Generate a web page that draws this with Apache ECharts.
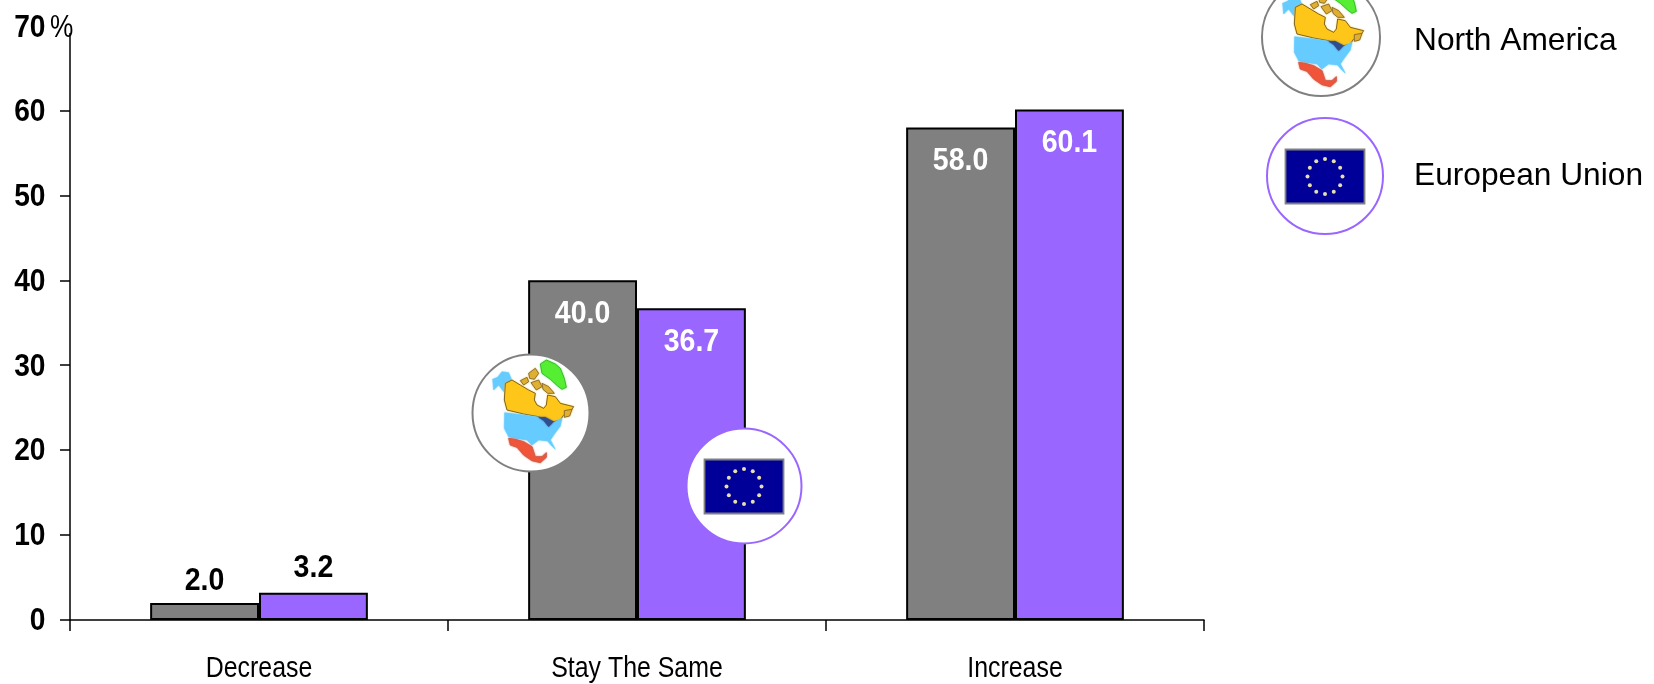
<!DOCTYPE html>
<html><head><meta charset="utf-8">
<style>html,body{margin:0;padding:0;background:#fff}#c{width:1654px;height:684px}</style>
<script src="https://cdn.jsdelivr.net/npm/echarts@6/dist/echarts.min.js"></script>
</head><body><div id="c"></div>
<script>
const categories = ['Decrease', 'Stay The Same', 'Increase'];
const northAmerica = [2.0, 40.0, 58.0];
const europeanUnion = [3.2, 36.7, 60.1];
const seriesNames = ['North America', 'European Union'];
const yTicks = [0, 10, 20, 30, 40, 50, 60, 70];

const GRAY = '#808080', PURPLE = '#9966FF';
const SANS = '"Liberation Sans",Arial,sans-serif';
const BAR_GAP = 42.4;

// decorative icon outlines, in units of 1/3 px around the icon's centre
const mapShapes = [
  {fill:'#55EE33', pts:[[240,72],[258,60],[285,72],[300,85],[312,115],[318,142],[305,148],[292,138],[270,118],[245,100]], stroke:'#33AA33'},
  {fill:'#66CCFF', pts:[[97,118],[112,112],[125,95],[145,98],[155,122],[133,130],[130,155],[115,135],[100,150]]},
  {fill:'#FFC61A', pts:[[135,130],[155,120],[180,135],[205,150],[225,160],[222,180],[230,195],[250,205],[258,195],[262,165],[285,170],[300,190],[320,195],[340,200],[330,215],[310,225],[300,240],[280,245],[262,258],[258,240],[235,230],[190,222],[140,210],[132,180]], stroke:'#5a4a20'},
  {fill:'#E0B030', pts:[[180,122],[200,112],[205,125],[190,135]], stroke:'#7a6030'},
  {fill:'#E0B030', pts:[[205,100],[225,85],[235,100],[222,118],[208,115]], stroke:'#7a6030'},
  {fill:'#E0B030', pts:[[212,128],[235,120],[245,140],[228,150]], stroke:'#7a6030'},
  {fill:'#E0B030', pts:[[245,130],[265,140],[282,160],[262,160],[248,148]], stroke:'#7a6030'},
  {fill:'#E0B030', pts:[[312,212],[335,208],[328,228],[312,232]], stroke:'#7a6030'},
  {fill:'#66CCFF', pts:[[133,218],[190,225],[235,232],[250,245],[265,260],[285,245],[305,235],[300,258],[280,285],[270,300],[285,328],[272,315],[262,303],[235,300],[215,315],[200,300],[165,295],[145,290],[132,265]]},
  {fill:'#2F4F8F', pts:[[235,232],[255,232],[280,245],[265,260],[250,242]]},
  {fill:'#F0553A', pts:[[145,295],[165,298],[190,305],[215,320],[225,350],[245,350],[258,338],[258,352],[240,368],[215,362],[190,345],[170,322],[150,315]], stroke:'#C06050'}
];
const starAngles = [0,30,60,90,120,150,180,210,240,270,300,330];

function naIcon(cx, cy, r) {
  const kids = [{type:'circle', z:100, shape:{cx:0, cy:0, r}, style:{fill:'#fff', stroke:GRAY, lineWidth:2}}];
  mapShapes.forEach((s, i) => kids.push({
    type:'polygon', z:101 + i,
    shape:{points:s.pts.map(p => [(p[0]-212)/3, (p[1]-219)/3])},
    style:{fill:s.fill, stroke:s.stroke || s.fill, lineWidth:s.stroke ? 0.8 : 0.4, shadowBlur:1.5, shadowColor:s.fill}
  }));
  return {type:'group', x:cx, y:cy, children:kids};
}
function euIcon(cx, cy, r) {
  const kids = [
    {type:'circle', z:100, shape:{cx:0, cy:0, r}, style:{fill:'#fff', stroke:PURPLE, lineWidth:2}},
    {type:'rect', z:101, shape:{x:-39.5, y:-26.5, width:79, height:54}, style:{fill:'#000099', stroke:GRAY, lineWidth:1.8}}
  ];
  starAngles.forEach(a => {
    const t = a * Math.PI / 180;
    kids.push({type:'circle', z:102, shape:{cx:17.5*Math.cos(t), cy:0.5+17.5*Math.sin(t), r:2}, style:{fill:'#E6E0B0'}});
  });
  return {type:'group', x:cx, y:cy, children:kids};
}
function legendText(name, y) {
  return {type:'text', x:1414, y, z:100, style:{text:name, font:'31.7px ' + SANS, fill:'#000', align:'left', verticalAlign:'middle'}};
}
// narrow text: Liberation Sans condensed horizontally
function narrow(text, x, y, size, bold, color, align, scale) {
  return {type:'text', x, y, scaleX:scale, z:60,
    style:{text, font:(bold ? 'bold ' : '') + size + 'px ' + SANS, fill:color, align:align || 'center', verticalAlign:'middle'}};
}
function barSeries(name, values, color) {
  return {
    type:'bar', name, data:values, barGap:0, barCategoryGap:BAR_GAP + '%',
    itemStyle:{color, borderColor:'#000', borderWidth:2},
    animation:false
  };
}

const chart = echarts.init(document.getElementById('c'), null, {renderer:'canvas'});
chart.setOption({
  animation:false,
  backgroundColor:'#fff',
  grid:{left:70, right:450, top:25.5, bottom:64, containLabel:false},
  xAxis:{
    type:'category', data:categories,
    axisTick:{show:true, alignWithLabel:false, length:11, lineStyle:{color:'#000', width:1.5}},
    axisLine:{lineStyle:{color:'#000', width:1.5}},
    axisLabel:{show:false}
  },
  yAxis:{
    type:'value', min:yTicks[0], max:yTicks[yTicks.length-1], interval:yTicks[1]-yTicks[0],
    splitLine:{show:false},
    axisLine:{show:true, lineStyle:{color:'#000', width:1.5}},
    axisTick:{show:true, length:10, lineStyle:{color:'#000', width:1.5}},
    axisLabel:{show:false}
  },
  series:[
    barSeries(seriesNames[0], northAmerica, GRAY),
    barSeries(seriesNames[1], europeanUnion, PURPLE)
  ]
});

// labels are placed from the chart's own scales
const gx = c => chart.convertToPixel({xAxisIndex:0}, c);
const gy = v => chart.convertToPixel({yAxisIndex:0}, v);
const band = gx(categories[1]) - gx(categories[0]);
const barW = band * (1 - BAR_GAP / 100) / 2;

const texts = [];
yTicks.forEach(v => texts.push(narrow(String(v), 45.5, gy(v) + (v === 70 ? 3 : 1.5), 32, true, '#000', 'right', 0.88)));
categories.forEach(c => texts.push(narrow(c, gx(c), 669, 30, false, '#000', 'center', 0.83)));
[northAmerica, europeanUnion].forEach((vals, s) => vals.forEach((v, i) => {
  const x = gx(categories[i]) + (s === 0 ? -barW / 2 : barW / 2);
  const top = gy(v);
  texts.push(v < 10
    ? narrow(v.toFixed(1), x, top - (s === 0 ? 22 : 24), 31, true, '#000', 'center', 0.92)
    : narrow(v.toFixed(1), x, top + 34, 31, true, '#fff', 'center', 0.92));
}));

chart.setOption({
  graphic:[
    {type:'rect', z:50, shape:{x:46, y:8, width:34, height:25}, style:{fill:'#fff'}},
    narrow('%', 50, 28, 32, false, '#000', 'left', 0.82),
    ...texts,
    naIcon(531, 413, 58.5),
    euIcon(744, 486, 57.5),
    naIcon(1321, 37, 59),
    euIcon(1325, 176, 58),
    legendText(seriesNames[0], 41),
    legendText(seriesNames[1], 176)
  ]
});
</script></body></html>
